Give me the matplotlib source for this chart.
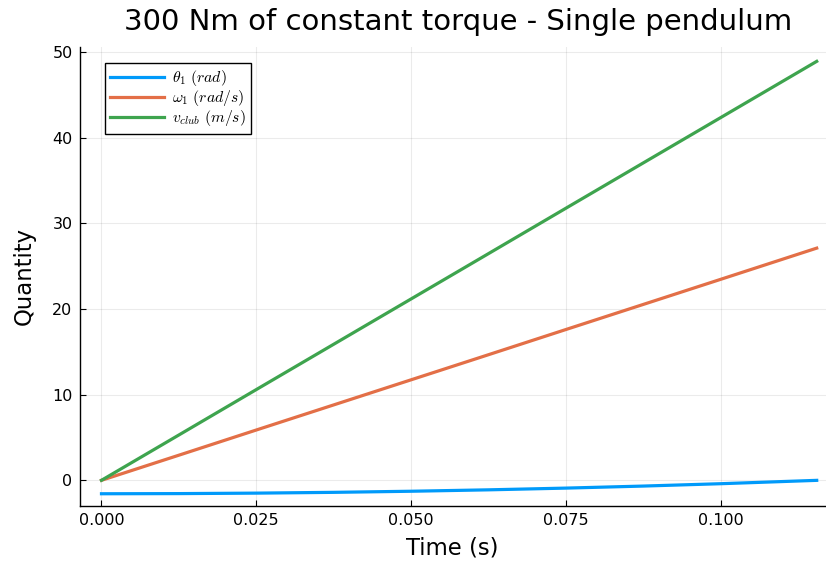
import matplotlib
matplotlib.use("Agg")
import matplotlib.pyplot as plt

plt.rcParams["mathtext.fontset"] = "cm"

t = [0.0, 0.0125, 0.025, 0.0375, 0.05, 0.0625, 0.075, 0.0875, 0.1, 0.1155]
theta1 = [-1.571, -1.553, -1.498, -1.406, -1.278, -1.113, -0.911, -0.673, -0.398, -0.006]
omega1 = [0.0, 2.93, 5.87, 8.80, 11.73, 14.66, 17.60, 20.53, 23.46, 27.10]
vclub = [0.0, 5.29, 10.59, 15.88, 21.17, 26.46, 31.76, 37.05, 42.34, 48.90]

labels = [r"$\theta_1\ (rad)$", r"$\omega_1\ (rad/s)$", r"$v_{club}\ (m/s)$"]
colors = ["#009AFA", "#E36F47", "#3EA44E"]
xticks = [0.0, 0.025, 0.05, 0.075, 0.1]
xticklabels = ["0.000", "0.025", "0.050", "0.075", "0.100"]
yticks = [0, 10, 20, 30, 40, 50]

W, H = 826, 562
fig = plt.figure(figsize=(W / 100, H / 100), dpi=100)
left, right, bottom, top = 79.5, 826, 506, 46.8
ax = fig.add_axes([left / W, (H - bottom) / H, (right - left) / W, (bottom - top) / H])

for y, lab, c in zip([theta1, omega1, vclub], labels, colors):
    ax.plot(t, y, color=c, lw=2.3, label=lab)

ax.set_xlim(-0.00355, 0.1170)
ax.set_ylim(-3.0, 50.6)
ax.set_xticks(xticks)
ax.set_xticklabels(xticklabels)
ax.set_yticks(yticks)
ax.grid(True, color="black", alpha=0.08, lw=0.8)
for s in ["top", "right"]:
    ax.spines[s].set_visible(False)
for s in ["left", "bottom"]:
    ax.spines[s].set_linewidth(1.0)
ax.tick_params(direction="in", length=4, width=0.8, labelsize=11.5, colors="black", pad=5)

fig.text(458 / W, 1 - 22 / H, "300 Nm of constant torque - Single pendulum",
         fontsize=21, ha="center", va="center")
ax.set_xlabel("Time (s)", fontsize=16.4, labelpad=6)
ax.set_ylabel("Quantity", fontsize=16.4, labelpad=11.5)

leg = ax.legend(loc="upper left", bbox_to_anchor=(0.034, 0.965), fontsize=11.3,
                frameon=True, fancybox=False, edgecolor="black", framealpha=1,
                handlelength=3.4, handletextpad=0.5, borderpad=0.35,
                labelspacing=0.0, borderaxespad=0)
leg.get_frame().set_linewidth(1.0)

fig.savefig("out.png", dpi=100)
